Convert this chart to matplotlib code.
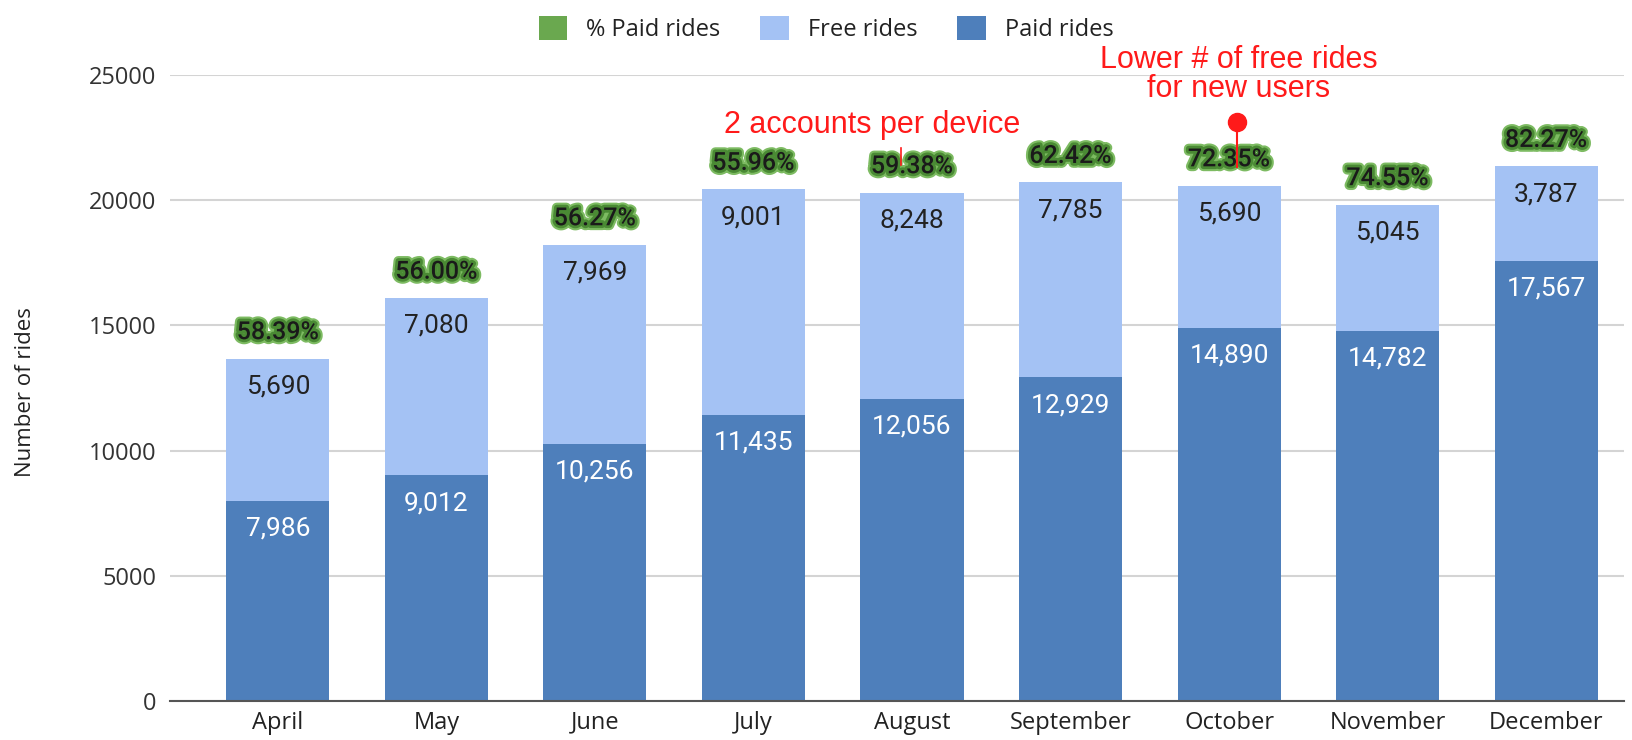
import numpy as np
import matplotlib.pyplot as plt
import matplotlib.patheffects as pe
from matplotlib.patches import Patch

# monthly ride counts
months = ['April', 'May', 'June', 'July', 'August', 'September', 'October', 'November', 'December']
paid = [7986, 9012, 10256, 11435, 12056, 12929, 14890, 14782, 17567]
free = [5690, 7080, 7969, 9001, 8248, 7785, 5690, 5045, 3787]
pct_paid = ['58.39%', '56.00%', '56.27%', '55.96%', '59.38%', '62.42%', '72.35%', '74.55%', '82.27%']

dark_blue = '#4e7fbb'
light_blue = '#a4c2f4'
green = '#6aa84f'

fig = plt.figure(figsize=(16.32, 7.4), dpi=100, facecolor='w')
ax = fig.add_axes([0.1042, 0.0527, 0.8908, 0.8459])

x = np.arange(len(months))
w = 0.65
ax.bar(x, paid, w, color=dark_blue, zorder=2)
ax.bar(x, free, w, bottom=paid, color=light_blue, zorder=2)

totals = np.array(paid) + np.array(free)

# value labels
for i in range(len(months)):
    ax.annotate(f'{paid[i]:,}', (x[i], paid[i]), xytext=(0, -20), textcoords='offset points',
                ha='center', va='center', color='white', fontsize=19, family='Roboto', zorder=4)
    ax.annotate(f'{free[i]:,}', (x[i], totals[i]), xytext=(0, -20), textcoords='offset points',
                ha='center', va='center', color='#222222', fontsize=19, family='Roboto', zorder=4)
    t = ax.annotate(pct_paid[i], (x[i], totals[i]), xytext=(0, 19), textcoords='offset points',
                    ha='center', va='center', color='#1a1a1a', fontsize=18, family='Roboto',
                    weight='medium', zorder=4, annotation_clip=False)
    t.set_path_effects([pe.withStroke(linewidth=7, foreground='#7dbb62'),
                        pe.withStroke(linewidth=4, foreground='#4a8a34')])

ax.set_xlim(-0.68, 8.49)
ax.set_ylim(0, 25000)
ax.set_yticks([0, 5000, 10000, 15000, 20000, 25000])
ax.set_xticks(x)
ax.set_xticklabels(months, family='Open Sans', fontsize=17, color='#222222')
for lab in ax.get_yticklabels():
    lab.set_family('Open Sans')
    lab.set_fontsize(17)
    lab.set_color('#333333')
ax.yaxis.set_tick_params(length=0, pad=10)
ax.xaxis.set_tick_params(length=0, pad=7)
ax.grid(axis='y', color='#d4d4d4', lw=1.5, zorder=0)
ax.set_axisbelow(True)
for spine in ('top', 'right', 'left'):
    ax.spines[spine].set_visible(False)
ax.spines['bottom'].set_color('#555555')
ax.spines['bottom'].set_linewidth(1.5)

fig.text(26 / 1632, 0.47, 'Number of rides', rotation=90, ha='center', va='center',
         family='Open Sans', fontsize=16, color='#222222')

# annotations
red = '#ff1a1a'
ax.text(3.75, 22990, '2 accounts per device', ha='center', va='center', color=red,
        fontsize=22, family='Liberation Sans', clip_on=False)
ax.plot([3.93, 3.93], [21406, 22085], color=red, lw=1.2, zorder=5)

ax.text(6.06, 25600, 'Lower # of free rides', ha='center', va='center', color=red,
        fontsize=22, family='Liberation Sans', clip_on=False)
ax.text(6.06, 24450, 'for new users', ha='center', va='center', color=red,
        fontsize=22, family='Liberation Sans', clip_on=False)
ax.plot([6.05, 6.05], [21326, 23123], color=red, lw=1.5, zorder=5, clip_on=False)
ax.plot([6.05], [23123], 'o', color=red, ms=13, zorder=6, clip_on=False)

handles = [Patch(facecolor=green, label='% Paid rides'),
           Patch(facecolor=light_blue, label='Free rides'),
           Patch(facecolor=dark_blue, label='Paid rides')]
leg = fig.legend(handles=handles, loc='center', bbox_to_anchor=(826 / 1632, 1 - 29 / 740),
                 ncol=3, frameon=False, handlelength=1.2, handleheight=1.2,
                 handletextpad=0.8, columnspacing=1.7, prop={'family': 'Open Sans', 'size': 17})
for txt in leg.get_texts():
    txt.set_color('#222222')

fig.savefig('out.png', dpi=100, facecolor='w')
